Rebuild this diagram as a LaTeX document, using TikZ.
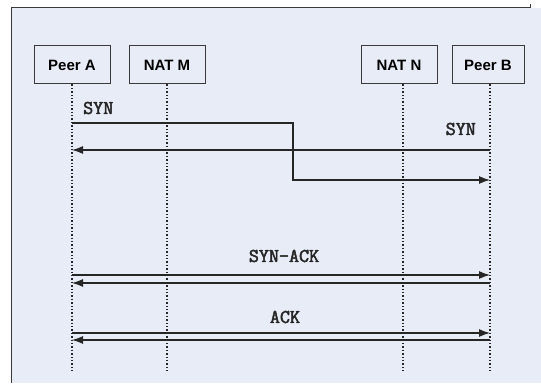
\documentclass[tikz,border=0pt]{standalone}
\usepackage{fontspec}
\setmainfont{Liberation Sans}
\newfontfamily\monob[FakeBold=2.5]{Latin Modern Mono}
\usetikzlibrary{arrows.meta}
\definecolor{panel}{HTML}{E7ECF7}
\definecolor{edge}{HTML}{3A3A3A}
\tikzset{
  actor/.style={draw=edge, line width=1pt, fill=panel, minimum width=76pt, minimum height=38pt, inner sep=0pt, font=\fontsize{15}{15}\selectfont\bfseries},
  life/.style={line width=1.4pt, dotted, black!85},
  msg/.style={line width=1.2pt, black!85, -{Latex[length=11pt,width=8pt]}},
  lbl/.style={font=\monob\fontsize{19.5}{19.5}\selectfont, text=black!85, inner sep=0pt}
}
\begin{document}
\begin{tikzpicture}[x=1pt,y=-1pt]
\useasboundingbox (0,0) rectangle (541,385);
\fill[white] (0,0) rectangle (541,385);
\fill[panel] (11,8) rectangle (541,383);
\draw[edge, line width=1pt] (11,383) -- (11,8) -- (530,8);
\draw[edge, line width=0.6pt] (530,4) -- (530,8);
% actors
\node[actor, minimum width=76pt] (pa) at (72,65) {Peer A};
\node[actor, minimum width=76pt] (nm) at (167,65) {NAT M};
\node[actor, minimum width=76pt] (nn) at (399,65) {NAT N};
\node[actor, minimum width=72pt] (pb) at (488,65) {Peer B};
% lifeline ends
\coordinate (pae) at (72,371);
\coordinate (nme) at (167,371);
\coordinate (nne) at (403,371);
\coordinate (pbe) at (490,371);
\draw[life] (pa.south -| pae) -- (pae);
\draw[life] (nm.south -| nme) -- (nme);
\draw[life] (nn.south -| nne) -- (nne);
\draw[life] (pb.south -| pbe) -- (pbe);
% SYN from A (bent)
\coordinate (s1) at (72,123);
\coordinate (k1) at (293,123);
\coordinate (k2) at (293,180);
\coordinate (e1) at (490,180);
\draw[msg] (s1) -- (k1) -- (k2) -- (e1);
\node[lbl, anchor=west] (syn1) at (83,108) {SYN};
% SYN from B
\coordinate (s2) at (490,150);
\coordinate (e2) at (72,150);
\draw[msg] (s2) -- (e2);
\node[lbl, anchor=east] (syn2) at (476,129) {SYN};
% SYN-ACK
\coordinate (a1) at (72,275);
\coordinate (b1) at (490,275);
\coordinate (a2) at (490,283);
\coordinate (b2) at (72,283);
\draw[msg] (a1) -- (b1);
\draw[msg] (a2) -- (b2);
\node[lbl] (synack) at (284,256) {SYN-ACK};
% ACK
\coordinate (c1) at (72,333);
\coordinate (d1) at (490,333);
\coordinate (c2) at (490,340);
\coordinate (d2) at (72,340);
\draw[msg] (c1) -- (d1);
\draw[msg] (c2) -- (d2);
\node[lbl] (ack) at (285,317) {ACK};
\end{tikzpicture}
\end{document}
